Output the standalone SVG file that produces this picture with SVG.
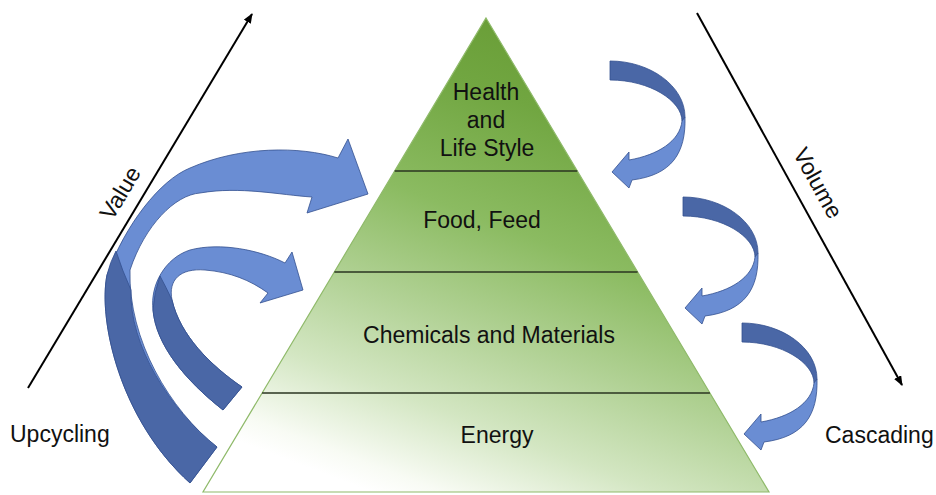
<svg xmlns="http://www.w3.org/2000/svg" width="936" height="495" viewBox="0 0 936 495">
<style>
.lbl{font-family:"Liberation Sans",Arial,sans-serif;font-size:23px;fill:#111;}
.mid{text-anchor:middle;}
.tier{fill:url(#pyr);stroke:none;}
.div{stroke:#2a3420;stroke-width:1.3;}
.axis{stroke:#000;stroke-width:2;fill:none;marker-end:url(#ah);}
.light{fill:#6a8dd3;stroke:#34518f;stroke-width:0.8;stroke-linejoin:round;}
.dark{fill:#4a67a6;stroke:#34518f;stroke-width:0.8;stroke-linejoin:round;}
</style>
<defs>
<linearGradient id="pyr" gradientUnits="userSpaceOnUse" x1="560" y1="20" x2="380" y2="495">
<stop offset="0" stop-color="#689c35"/>
<stop offset="0.18" stop-color="#71a641"/>
<stop offset="0.42" stop-color="#8bbb61"/>
<stop offset="0.63" stop-color="#b2d296"/>
<stop offset="0.8" stop-color="#d3e6c2"/>
<stop offset="0.95" stop-color="#f8fbf4"/>
<stop offset="1" stop-color="#ffffff"/>
</linearGradient>
<marker id="ah" viewBox="0 0 10 8" refX="9" refY="4" markerWidth="5" markerHeight="4" orient="auto" markerUnits="strokeWidth">
<path d="M0,0 L10,4 L0,8 Z" fill="#000"/>
</marker>
<g id="casc">
<path class="dark" d="M0,0 C40,0 75,25 75,56 L72,60 C72,40 40,19 0,19 Z"/>
<path class="light" d="M75,56 C76,92 62,114 22,119 L19,127 L2,111 L19,91 L19,99 C48,94 70,80 72,60 Z"/>
</g>
</defs>

<g id="axes">
<line class="axis" x1="28" y1="388" x2="252" y2="14"/>
<line class="axis" x1="697" y1="13" x2="902" y2="385"/>
<text class="lbl mid" transform="translate(120,193) rotate(-59)" y="8">Value</text>
<text class="lbl mid" transform="translate(818,183) rotate(61)" y="8">Volume</text>
</g>

<g id="tier-health">
<polygon class="tier" points="486,18 577.3,171 394.7,171"/>
<text class="lbl mid" x="486" y="100">Health</text>
<text class="lbl mid" x="486" y="128">and</text>
<text class="lbl mid" x="487" y="156">Life Style</text>
</g>
<g id="tier-food">
<polygon class="tier" points="394.7,171 577.3,171 637.6,272 334.4,272"/>
<text class="lbl mid" x="482" y="228">Food, Feed</text>
</g>
<g id="tier-chem">
<polygon class="tier" points="334.4,272 637.6,272 709.9,393 262.1,393"/>
<text class="lbl mid" x="489" y="343">Chemicals and Materials</text>
</g>
<g id="tier-energy">
<polygon class="tier" points="262.1,393 709.9,393 769,492 203,492"/>
<text class="lbl mid" x="497" y="443">Energy</text>
</g>
<g id="pyramid-outline">
<polygon points="486,18 769,492 203,492" fill="none" stroke="#8fba6a" stroke-width="1.2"/>
<line class="div" x1="394.7" y1="171" x2="577.3" y2="171"/>
<line class="div" x1="334.4" y1="272" x2="637.6" y2="272"/>
<line class="div" x1="262.1" y1="393" x2="709.9" y2="393"/>
</g>

<g id="connectors">
<g id="upcycle-big">
<path class="light" d="M338,158 C300,146 240,146 190,168 C160,180 125,225 107,275 C98,320 120,420 190,483 L217,447 C170,410 128,340 130,270 C145,225 175,195 200,193 C240,186 280,195 312,197 L307,213 L368,194 L348,139 Z"/>
<path class="dark" d="M116,251 Q110,262 107,275 C98,320 120,420 190,483 L217,447 C170,410 129,345 131,290 Q122,270 116,251 Z"/>
</g>
<g id="upcycle-small">
<path class="light" d="M285,263 C260,250 220,242 190,250 C165,258 150,285 153,310 C156,345 185,380 223,410 L242,387 C210,365 180,335 172,300 C168,280 180,268 205,270 C230,272 250,280 268,293 L260,303 L303,290 L292,252 Z"/>
<path class="dark" d="M160,276 Q154,292 153,310 C156,345 185,380 223,410 L242,387 C210,365 180,335 172,300 Q166,287 160,276 Z"/>
</g>
<use href="#casc" transform="translate(610,61)"/>
<use href="#casc" transform="translate(683,197)"/>
<use href="#casc" transform="translate(742,323)"/>
</g>

<g id="side-labels">
<text class="lbl" x="10" y="442">Upcycling</text>
<text class="lbl" x="825" y="443">Cascading</text>
</g>
</svg>
